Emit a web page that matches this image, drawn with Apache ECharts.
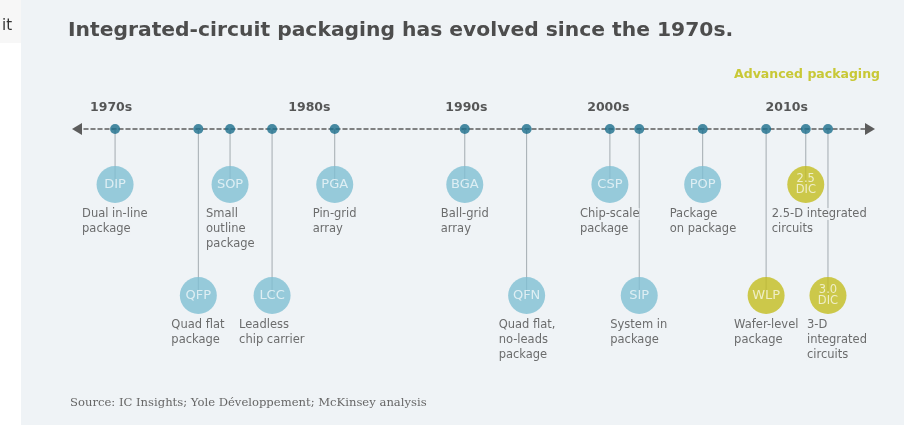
<!DOCTYPE html>
<html><head><meta charset="utf-8">
<script src="https://cdn.jsdelivr.net/npm/echarts@6/dist/echarts.min.js"></script>
<style>html,body{margin:0;padding:0;background:#fff;}#c{width:904px;height:425px;}</style>
</head><body><div id="c"></div>
<script>
// ---- data (schematic timeline position, 0-100) ----
const decades = ['1970s', '1980s', '1990s', '2000s', '2010s'];
const decadePos = [4.3, 29.3, 49.1, 67.0, 89.5];
const pkgAbbr = ['DIP', 'QFP', 'SOP', 'LCC', 'PGA', 'BGA', 'QFN', 'CSP', 'SIP', 'POP', 'WLP', '2.5\nDIC', '3.0\nDIC'];
const pkgName = ['Dual in-line\npackage', 'Quad flat\npackage', 'Small\noutline\npackage', 'Leadless\nchip carrier',
  'Pin-grid\narray', 'Ball-grid\narray', 'Quad flat,\nno-leads\npackage', 'Chip-scale\npackage', 'System in\npackage',
  'Package\non package', 'Wafer-level\npackage', '2.5-D integrated\ncircuits', '3-D\nintegrated\ncircuits'];
const pkgPos = [4.8, 15.3, 19.3, 24.6, 32.5, 48.9, 56.7, 67.2, 70.9, 78.9, 86.9, 91.9, 94.7];
const pkgTier = ['upper', 'lower', 'upper', 'lower', 'upper', 'upper', 'lower', 'upper', 'lower', 'upper', 'lower', 'upper', 'lower'];
const pkgAdvanced = [false, false, false, false, false, false, false, false, false, false, true, true, true];

// ---- styling ----
const PANEL = '#eff3f6';
const SANS = '"DejaVu Sans", sans-serif';
const tierY = { upper: 1, lower: 3 };
const DESC_SIZE = 11.5;
const ctx = document.createElement('canvas').getContext('2d');
ctx.font = DESC_SIZE + 'px "DejaVu Sans"';
const blockW = s => Math.max(...s.split('\n').map(l => ctx.measureText(l).width));

const pkgPts = pkgPos.map((p, i) => [p, tierY[pkgTier[i]]]);

const chart = echarts.init(document.getElementById('c'), null, { renderer: 'canvas' });

function descData(offsets) {
  return pkgPts.map((pt, i) => ({ value: pt, label: { offset: [offsets[i], 22] } }));
}

chart.setOption({
  animation: false,
  backgroundColor: '#ffffff',
  graphic: [
    { type: 'rect', shape: { x: 21, y: 0, width: 883, height: 425 }, style: { fill: PANEL }, z: -10 },
    { type: 'rect', shape: { x: 0, y: 0, width: 21, height: 43 }, style: { fill: '#f7f7f7' }, z: -10 },
    { type: 'text', left: 2, top: 19, style: { text: 'it', fontSize: 15, fontFamily: SANS, fill: '#333' } },
    { type: 'text', right: 24, top: 68, style: { text: 'Advanced packaging', fontSize: 12.5, fontWeight: 'bold', fontFamily: SANS, fill: '#c8c836' } },
    { type: 'text', left: 70, top: 397, style: { text: 'Source: IC Insights; Yole Développement; McKinsey analysis', fontSize: 11.6, fontFamily: '"DejaVu Serif", serif', fill: '#666' } }
  ],
  title: {
    text: 'Integrated-circuit packaging has evolved since the 1970s.',
    left: 63, top: 16,
    textStyle: { fontFamily: SANS, fontWeight: 'bold', fontSize: 20.3, color: '#4d4d4d' }
  },
  grid: { left: 77, right: 34, top: 73.5, bottom: 74 },
  xAxis: {
    type: 'value', min: 0, max: 100,
    axisLine: { show: true, onZero: true, symbol: ['triangle', 'triangle'], symbolSize: [12, 10],
      lineStyle: { color: '#5c5c5c', width: 1.5, type: [4, 3] } },
    axisTick: { show: false }, axisLabel: { show: false }, splitLine: { show: false }
  },
  yAxis: { type: 'value', inverse: true, min: -1, max: 4, show: false },
  series: [
    { // stems
      type: 'custom', z: 1, silent: true,
      data: pkgPts,
      renderItem: (params, api) => {
        const a = api.coord([api.value(0), 0]);
        const b = api.coord([api.value(0), api.value(1)]);
        return { type: 'line', shape: { x1: a[0], y1: a[1], x2: b[0], y2: b[1] },
          style: { stroke: '#a3abb0', lineWidth: 1 } };
      }
    },
    { // descriptions
      id: 'desc',
      type: 'scatter', z: 3, silent: true,
      symbolSize: 1, itemStyle: { color: 'transparent' },
      data: descData(pkgName.map(n => -Math.round(blockW(n) / 2))),
      label: {
        show: true, position: 'inside', align: 'left', verticalAlign: 'top',
        formatter: p => pkgName[p.dataIndex].split('\n').map(l => '{t|' + l + '}').join('\n'),
        rich: { t: { fontFamily: SANS, fontSize: DESC_SIZE, lineHeight: 15, color: '#4a4a4a', backgroundColor: PANEL } }
      }
    },
    { // circles
      type: 'scatter', z: 4, silent: true,
      symbolSize: 37,
      data: pkgPts,
      itemStyle: { color: p => pkgAdvanced[p.dataIndex] ? '#c3bd1f' : '#7fbfd3' },
      label: {
        show: true, position: 'inside',
        formatter: p => {
          const a = pkgAbbr[p.dataIndex];
          return a.indexOf('\n') >= 0 ? a.split('\n').map(l => '{s|' + l + '}').join('\n') : '{b|' + a + '}';
        },
        rich: {
          b: { fontFamily: SANS, fontSize: 13, color: 'rgba(255,255,255,0.85)' },
          s: { fontFamily: SANS, fontSize: 11.5, lineHeight: 11, color: 'rgba(255,255,255,0.85)' }
        }
      }
    },
    { // dots on the timeline
      type: 'scatter', z: 5, silent: true,
      symbolSize: 10,
      data: pkgPos.map(p => [p, 0]),
      itemStyle: { color: '#1b6e8c' }
    },
    { // decade labels
      type: 'scatter', z: 5, silent: true,
      symbolSize: 1, itemStyle: { color: 'transparent' },
      data: decadePos.map(p => [p, 0]),
      label: {
        show: true, position: 'inside', offset: [0, -21],
        formatter: p => decades[p.dataIndex],
        fontFamily: SANS, fontWeight: 'bold', fontSize: 12.5, color: '#2e2e2e'
      }
    }
  ]
});

// centre each description under its circle; the last one of each tier sits flush with the timeline's right end
const rightLimit = chart.convertToPixel({ gridIndex: 0 }, [100, 0])[0] - 3;
const lastInTier = {};
pkgPts.forEach((pt, i) => {
  const t = pkgTier[i];
  if (lastInTier[t] === undefined || pkgPos[i] > pkgPos[lastInTier[t]]) lastInTier[t] = i;
});
const offsets = pkgPts.map((pt, i) => {
  const cx = chart.convertToPixel({ gridIndex: 0 }, pt)[0];
  const w = blockW(pkgName[i]);
  let left = cx - w / 2;
  if (lastInTier[pkgTier[i]] === i || left + w > rightLimit) left = rightLimit - w;
  return Math.round(left - cx);
});
chart.setOption({ series: [{ id: 'desc', data: descData(offsets) }] });
</script></body></html>
